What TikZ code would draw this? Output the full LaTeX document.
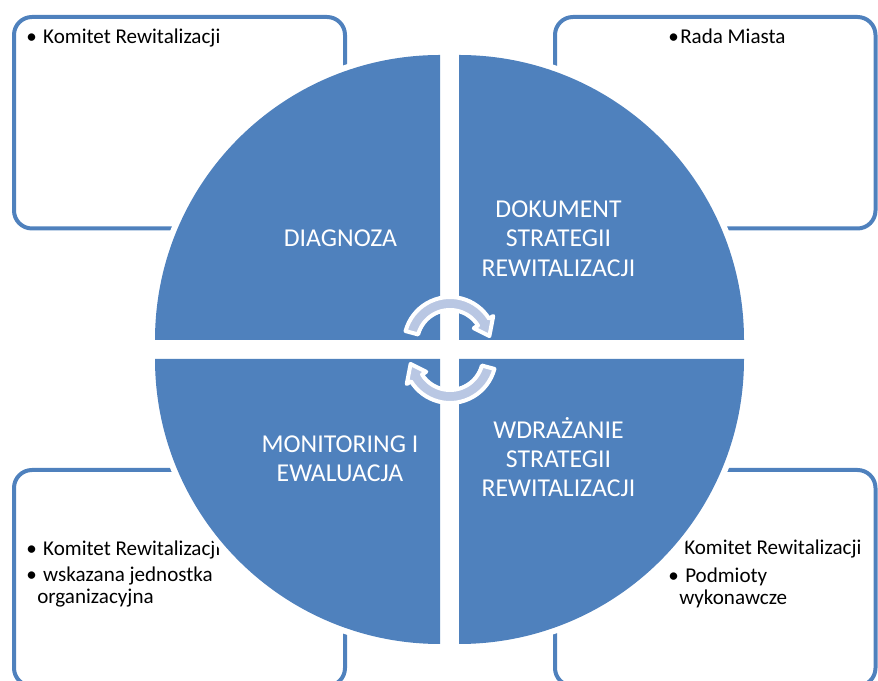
\documentclass[tikz,border=0pt]{standalone}
\usepackage{fontspec}
\setmainfont{Carlito}
\usepackage{tikz}
\definecolor{quadblue}{RGB}{79,129,189}
\definecolor{arrowblue}{RGB}{185,199,227}
\newcommand{\itembullet}[1]{\makebox[#1][l]{\textbullet}}

\begin{document}
\begin{tikzpicture}[x=0.75pt, y=0.75pt]
	\tikzstyle{sidebox} = [draw=quadblue, line width = 3pt, rounded corners = 13.5pt]
	\tikzstyle{quadrant} = [fill=quadblue, preaction={draw=white, line width = 9pt}]
	\tikzstyle{cyclearrow} = [fill=arrowblue, draw=white, line width = 3pt, line join = round]
	\tikzstyle{boxitem} = [anchor = base west, inner sep = 0pt, font = \fontsize{15.8pt}{19pt}\selectfont]
	\tikzstyle{phasetext} = [text = white, align = center, inner sep = 0pt, font = \fontsize{19.3pt}{22.1pt}\selectfont]
	\clip (0,0) rectangle (878,681);
	
	\draw[sidebox] (14,664) rectangle (345,452.5);
	\draw[sidebox] (555,664) rectangle (875.5,452.5);
	\draw[sidebox] (14,211) rectangle (345,-5);
	\draw[sidebox] (555,211) rectangle (875.5,-5);
	
	\node[boxitem] at (26,637) (tl1) {\itembullet{12.75pt}Komitet Rewitalizacji};
	\node[boxitem] at (668,637) (tr1) {\itembullet{9pt}Rada Miasta};
	\node[boxitem] at (26,125) (bl1) {\itembullet{12.75pt}Komitet Rewitalizacji};
	\node[boxitem] at (26,99) (bl2) {\itembullet{12.75pt}wskazana jednostka};
	\node[boxitem] at (37,77) (bl3) {organizacyjna};
	\node[boxitem] at (684,126) (br1) {Komitet Rewitalizacji};
	\node[boxitem] at (668,98) (br2) {\itembullet{12.75pt}Podmioty};
	\node[boxitem] at (679,76) (br3) {wykonawcze};
	
	\path[quadrant] (440,341) -- ++(-285,0) arc[start angle=180, end angle=90, radius=285] -- cycle;
	\path[quadrant] (459,341) -- ++(0,285) arc[start angle=90, end angle=0, radius=285] -- cycle;
	\path[quadrant] (440,322) -- ++(0,-285) arc[start angle=270, end angle=180, radius=285] -- cycle;
	\path[quadrant] (459,322) -- ++(285,0) arc[start angle=0, end angle=-90, radius=285] -- cycle;
	
	\node[phasetext, anchor = base] at (340.5,434) (diag) {DIAGNOZA};
	\node[phasetext] at (558.5,442.7) (dok) {DOKUMENT\\STRATEGII\\REWITALIZACJI};
	\node[phasetext] at (340,222.4) (mon) {MONITORING I\\EWALUACJA};
	\node[phasetext] at (558.5,223.9) (wdr) {WDRAŻANIE\\STRATEGII\\REWITALIZACJI};
	
	\begin{scope}[shift={(450,338)}]
		\path[cyclearrow] (165:46) arc[start angle=165, end angle=32, radius=46] -- (32:51) -- (10:40) -- (32:28) -- (32:33) arc[start angle=32, end angle=165, radius=33] -- cycle;
	\end{scope}
	\begin{scope}[shift={(450,324)}, rotate=180]
		\path[cyclearrow] (165:46) arc[start angle=165, end angle=32, radius=46] -- (32:51) -- (10:40) -- (32:28) -- (32:33) arc[start angle=32, end angle=165, radius=33] -- cycle;
	\end{scope}
\end{tikzpicture}
\end{document}
